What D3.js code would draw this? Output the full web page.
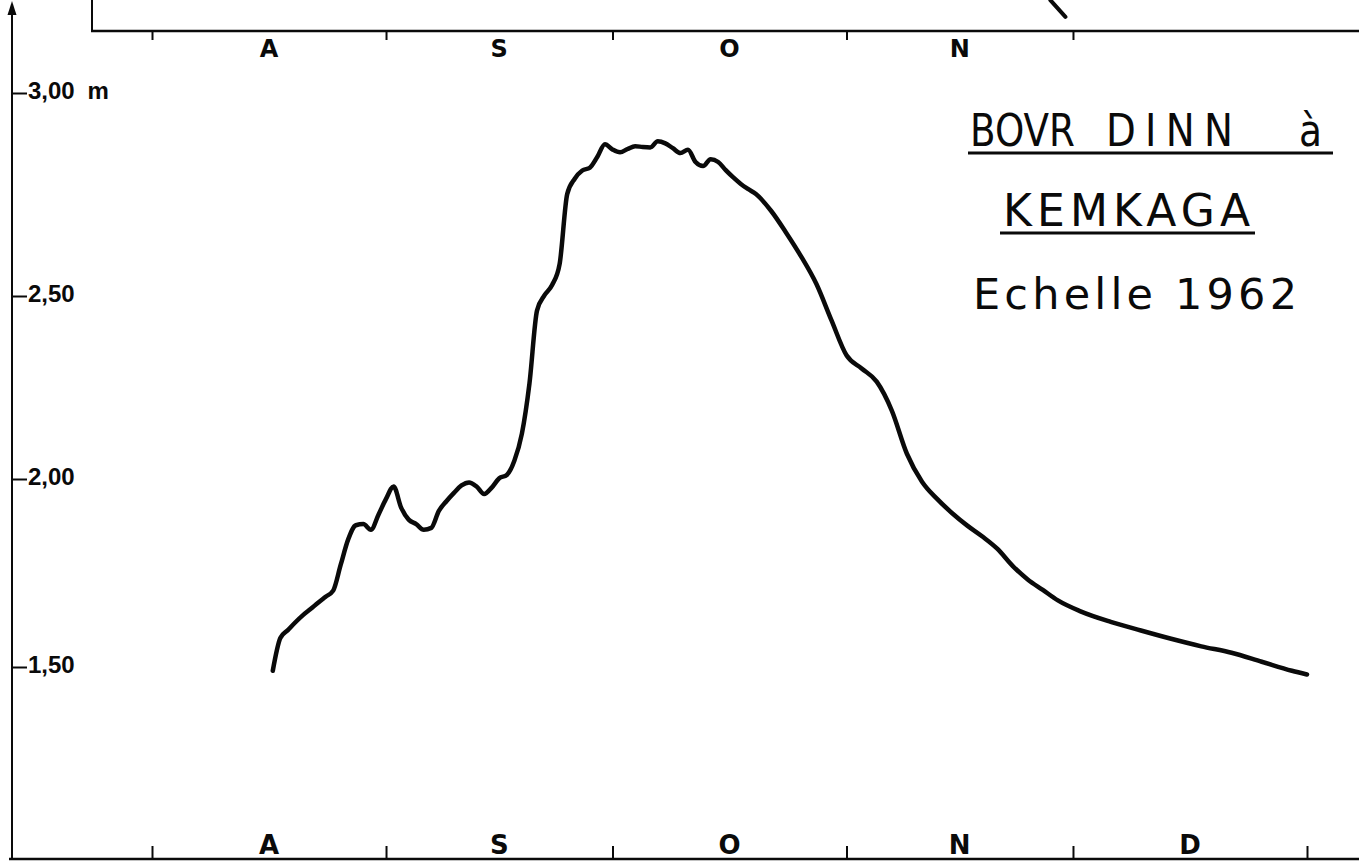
<!DOCTYPE html>
<html>
<head>
<meta charset="utf-8">
<script src="https://cdn.jsdelivr.net/npm/d3@7"></script>
<style>
  html, body { margin: 0; padding: 0; background: #ffffff; }
  svg { display: block; }
</style>
</head>
<body>
<svg id="chart" width="1359" height="863"></svg>
<script>
// Daily gauge readings, Bovr Dinn at Kemkaga, 1962 (metres)
const readingDates = [
  "1962-08-17","1962-08-18","1962-08-19","1962-08-20","1962-08-21","1962-08-22","1962-08-23","1962-08-24",
  "1962-08-25","1962-08-26","1962-08-27","1962-08-28","1962-08-29","1962-08-30","1962-08-31","1962-09-01",
  "1962-09-02","1962-09-03","1962-09-04","1962-09-05","1962-09-06","1962-09-07","1962-09-08","1962-09-09",
  "1962-09-10","1962-09-11","1962-09-12","1962-09-13","1962-09-14","1962-09-15","1962-09-16","1962-09-17",
  "1962-09-18","1962-09-19","1962-09-20","1962-09-21","1962-09-22","1962-09-23","1962-09-24","1962-09-25",
  "1962-09-26","1962-09-27","1962-09-28","1962-09-29","1962-09-30","1962-10-01","1962-10-02","1962-10-03",
  "1962-10-04","1962-10-05","1962-10-06","1962-10-07","1962-10-08","1962-10-09","1962-10-10","1962-10-11",
  "1962-10-12","1962-10-13","1962-10-14","1962-10-15","1962-10-16","1962-10-17","1962-10-18","1962-10-19",
  "1962-10-20","1962-10-22","1962-10-24","1962-10-26","1962-10-28","1962-10-30","1962-11-01","1962-11-03",
  "1962-11-05","1962-11-07","1962-11-09","1962-11-11","1962-11-13","1962-11-15","1962-11-17","1962-11-19",
  "1962-11-21","1962-11-23","1962-11-25","1962-11-27","1962-11-29","1962-12-02","1962-12-06","1962-12-10",
  "1962-12-14","1962-12-18","1962-12-22","1962-12-26","1962-12-30","1963-01-01"
];
const readingLevels = [
  1.490, 1.577, 1.598, 1.619, 1.638, 1.654, 1.671, 1.687,
  1.703, 1.772, 1.840, 1.877, 1.880, 1.865, 1.905, 1.947,
  1.980, 1.924, 1.892, 1.880, 1.865, 1.870, 1.915, 1.941,
  1.963, 1.983, 1.991, 1.980, 1.960, 1.977, 2.002, 2.011,
  2.050, 2.124, 2.261, 2.460, 2.502, 2.527, 2.579, 2.751,
  2.789, 2.809, 2.816, 2.843, 2.874, 2.861, 2.854, 2.862,
  2.869, 2.867, 2.866, 2.881, 2.876, 2.864, 2.852, 2.860,
  2.830, 2.820, 2.837, 2.830, 2.810, 2.792, 2.776, 2.763,
  2.751, 2.710, 2.656, 2.597, 2.530, 2.434, 2.338, 2.302,
  2.266, 2.187, 2.069, 1.993, 1.947, 1.909, 1.876, 1.847,
  1.814, 1.769, 1.733, 1.705, 1.677, 1.648, 1.620, 1.597,
  1.575, 1.555, 1.538, 1.514, 1.490, 1.480
];

// Tail of the curve from the panel above
const prevDates = ["1962-11-28", "1962-11-30"];
const prevLevels = [1.081, 1.037];

// Month boundaries and their initials
const monthStarts = ["1962-08-01","1962-09-01","1962-10-01","1962-11-01","1962-12-01","1963-01-01"];
const monthLabels = ["A", "S", "O", "N", "D"];
const topMonthStarts = ["1962-08-01","1962-09-01","1962-10-01","1962-11-01","1962-12-01"];
const topMonthLabels = ["A", "S", "O", "N"];

// Level axis ticks
const levelTicks = [1.5, 2.0, 2.5, 3.0];
const levelTickLabels = ["1,50", "2,00", "2,50", "3,00 m"];

const titleWords = ["BOVR", "DINN", "à"];
const subtitle = "KEMKAGA";
const scaleNote = "Echelle 1962";

const parse = d3.timeParse("%Y-%m-%d");
const svg = d3.select("#chart");

const x = d3.scaleTime()
  .domain([parse("1962-08-01"), parse("1963-01-01")])
  .range([152, 1307]);

// Hand-ruled level scale: the 0.50 m steps are not quite equal on the sheet
const y = d3.scaleLinear()
  .domain(levelTicks)
  .range([667, 479, 296, 93]);

const yPrev = d3.scaleLinear().domain([1.0, 1.5]).range([31, -160]);

const ink = "#0a0a0a";
const labelFont = "'Liberation Sans', Arial, sans-serif";
const monthFont = "'DejaVu Sans', sans-serif";
const titleFont = "'DejaVu Sans', sans-serif";

// ---- frame of the panel above: corner and its month axis ----
svg.append("line").attr("x1", 92).attr("x2", 92).attr("y1", 0).attr("y2", 31)
  .attr("stroke", ink).attr("stroke-width", 2);
svg.append("line").attr("x1", 91).attr("x2", 1359).attr("y1", 31).attr("y2", 31)
  .attr("stroke", ink).attr("stroke-width", 2.4);

const topAxis = svg.append("g").attr("transform", "translate(0,31)")
  .call(d3.axisBottom(x).tickValues(topMonthStarts.map(parse)).tickSize(9).tickFormat(""));
topAxis.select(".domain").remove();
topAxis.selectAll(".tick line").attr("stroke", ink).attr("stroke-width", 2);

svg.append("g").selectAll("text").data(topMonthLabels).join("text")
  .attr("x", (d, i) => (x(parse(topMonthStarts[i])) + x(parse(monthStarts[i + 1]))) / 2)
  .attr("y", 57)
  .attr("text-anchor", "middle")
  .attr("font-family", monthFont).attr("font-weight", "bold").attr("font-size", 24)
  .attr("fill", ink)
  .text(d => d);

svg.append("path")
  .datum(prevDates.map((d, i) => ({ date: parse(d), level: prevLevels[i] })))
  .attr("fill", "none").attr("stroke", ink).attr("stroke-width", 4).attr("stroke-linecap", "round")
  .attr("d", d3.line().x(d => x(d.date)).y(d => yPrev(d.level)));

// ---- level axis with arrow ----
svg.append("line").attr("x1", 12).attr("x2", 12).attr("y1", 8).attr("y2", 860)
  .attr("stroke", ink).attr("stroke-width", 2);
svg.append("path").attr("d", "M12,1 L7.5,15 L16.5,15 Z").attr("fill", ink);

const yAxis = svg.append("g").attr("transform", "translate(12,0)")
  .call(d3.axisRight(y).tickValues(levelTicks).tickSize(15).tickPadding(1)
    .tickFormat((d, i) => levelTickLabels[i]));
yAxis.select(".domain").remove();
yAxis.selectAll(".tick line").attr("stroke", ink).attr("stroke-width", 2);
yAxis.selectAll(".tick text")
  .attr("font-family", labelFont).attr("font-weight", "bold").attr("font-size", 24)
  .attr("fill", ink).attr("dy", "0.22em").attr("word-spacing", 6);

// ---- month axis along the bottom ----
svg.append("line").attr("x1", 9).attr("x2", 1359).attr("y1", 859).attr("y2", 859)
  .attr("stroke", ink).attr("stroke-width", 2.4);
const bottomAxis = svg.append("g").attr("transform", "translate(0,859)")
  .call(d3.axisTop(x).tickValues(monthStarts.map(parse)).tickSize(13).tickFormat(""));
bottomAxis.select(".domain").remove();
bottomAxis.selectAll(".tick line").attr("stroke", ink).attr("stroke-width", 2);

svg.append("g").selectAll("text").data(monthLabels).join("text")
  .attr("x", (d, i) => (x(parse(monthStarts[i])) + x(parse(monthStarts[i + 1]))) / 2)
  .attr("y", 854)
  .attr("text-anchor", "middle")
  .attr("font-family", monthFont).attr("font-weight", "bold").attr("font-size", 26)
  .attr("fill", ink)
  .text(d => d);

// ---- stage hydrograph ----
const readings = readingDates.map((d, i) => ({ date: parse(d), level: readingLevels[i] }));
svg.append("path")
  .datum(readings)
  .attr("fill", "none")
  .attr("stroke", ink)
  .attr("stroke-width", 4.5)
  .attr("stroke-linejoin", "round")
  .attr("stroke-linecap", "round")
  .attr("d", d3.line().x(d => x(d.date)).y(d => y(d.level)).curve(d3.curveMonotoneX));

// ---- station title (narrow lettering: glyphs squeezed horizontally) ----
const squeeze = 0.88;
const title = svg.append("g").attr("font-family", titleFont).attr("fill", ink);
// [left edge, drawn width, spacing mode]
const wordPos = [[970, 105, "spacingAndGlyphs"], [1106, 127, "spacing"], [1299, 23, "spacingAndGlyphs"]];
title.selectAll("text.word").data(titleWords).join("text")
  .attr("class", "word")
  .attr("transform", (d, i) => `translate(${wordPos[i][0]},146) scale(${squeeze},1)`)
  .attr("font-size", 44)
  .attr("textLength", (d, i) => wordPos[i][1] / squeeze)
  .attr("lengthAdjust", (d, i) => wordPos[i][2])
  .text(d => d);
title.append("line").attr("x1", 968).attr("x2", 1333).attr("y1", 153).attr("y2", 153)
  .attr("stroke", ink).attr("stroke-width", 3);

title.append("text")
  .attr("x", 1003).attr("y", 226)
  .attr("font-size", 44)
  .attr("textLength", 247).attr("lengthAdjust", "spacing")
  .text(subtitle);
title.append("line").attr("x1", 1000).attr("x2", 1255).attr("y1", 233).attr("y2", 233)
  .attr("stroke", ink).attr("stroke-width", 3);

title.append("text")
  .attr("x", 973).attr("y", 309)
  .attr("font-size", 43)
  .attr("textLength", 324).attr("lengthAdjust", "spacing")
  .text(scaleNote);
</script>
</body>
</html>
